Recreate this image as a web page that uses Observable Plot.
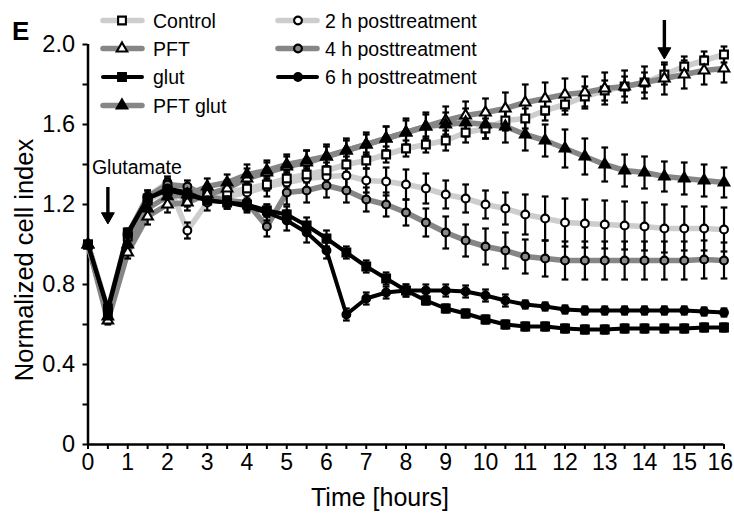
<!DOCTYPE html>
<html>
<head>
<meta charset="utf-8">
<script src="https://cdn.jsdelivr.net/npm/d3@7"></script>
<script src="https://cdn.jsdelivr.net/npm/@observablehq/plot@0.6"></script>
<style>
  html, body { margin: 0; padding: 0; background: #fff; }
  #chart { width: 734px; height: 514px; }
</style>
</head>
<body>
<div id="chart"></div>
<script>
// ---- Data ----
const time = [0, 0.5, 1, 1.5, 2, 2.5, 3, 3.5, 4, 4.5, 5, 5.5, 6, 6.5, 7, 7.5, 8, 8.5, 9, 9.5, 10, 10.5, 11, 11.5, 12, 12.5, 13, 13.5, 14, 14.5, 15, 15.5, 16];

const control = [1.00, 0.66, 1.04, 1.22, 1.27, 1.22, 1.25, 1.26, 1.28, 1.30, 1.33, 1.35, 1.37, 1.40, 1.42, 1.45, 1.48, 1.50, 1.52, 1.56, 1.58, 1.62, 1.63, 1.67, 1.70, 1.74, 1.77, 1.79, 1.81, 1.85, 1.89, 1.92, 1.95];
const pft = [1.00, 0.62, 0.96, 1.14, 1.20, 1.21, 1.25, 1.28, 1.33, 1.36, 1.39, 1.41, 1.44, 1.47, 1.50, 1.53, 1.56, 1.59, 1.62, 1.645, 1.66, 1.68, 1.71, 1.73, 1.75, 1.76, 1.78, 1.79, 1.81, 1.83, 1.85, 1.87, 1.88];
const glut = [1.00, 0.68, 1.06, 1.23, 1.27, 1.25, 1.22, 1.21, 1.20, 1.17, 1.15, 1.095, 1.03, 0.96, 0.89, 0.83, 0.77, 0.72, 0.68, 0.655, 0.625, 0.60, 0.59, 0.59, 0.58, 0.575, 0.575, 0.58, 0.58, 0.58, 0.58, 0.585, 0.585];
const pftGlut = [1.00, 0.64, 1.00, 1.18, 1.24, 1.25, 1.29, 1.31, 1.35, 1.37, 1.40, 1.42, 1.44, 1.47, 1.50, 1.53, 1.56, 1.59, 1.60, 1.61, 1.60, 1.59, 1.55, 1.52, 1.48, 1.44, 1.40, 1.37, 1.36, 1.34, 1.33, 1.32, 1.31];
const post2h = [1.00, 0.67, 1.05, 1.24, 1.31, 1.07, 1.21, 1.24, 1.26, 1.29, 1.31, 1.33, 1.34, 1.345, 1.32, 1.315, 1.30, 1.28, 1.25, 1.23, 1.20, 1.18, 1.15, 1.13, 1.11, 1.105, 1.10, 1.095, 1.09, 1.08, 1.08, 1.08, 1.075];
const post4h = [1.00, 0.67, 1.05, 1.24, 1.30, 1.29, 1.24, 1.22, 1.21, 1.09, 1.26, 1.27, 1.295, 1.27, 1.225, 1.20, 1.16, 1.11, 1.06, 1.02, 0.99, 0.97, 0.94, 0.93, 0.92, 0.92, 0.92, 0.92, 0.92, 0.92, 0.92, 0.925, 0.92];
const post6h = [1.00, 0.67, 1.05, 1.23, 1.28, 1.26, 1.22, 1.21, 1.19, 1.16, 1.12, 1.06, 0.97, 0.65, 0.73, 0.76, 0.77, 0.77, 0.77, 0.765, 0.745, 0.72, 0.70, 0.69, 0.675, 0.67, 0.67, 0.67, 0.67, 0.67, 0.67, 0.665, 0.66];

// error bars (+/-)
const controlErr = [0, 0.02, 0.03, 0.03, 0.03, 0.03, 0.03, 0.03, 0.03, 0.03, 0.04, 0.04, 0.04, 0.04, 0.04, 0.04, 0.04, 0.04, 0.05, 0.05, 0.05, 0.05, 0.05, 0.05, 0.05, 0.05, 0.05, 0.05, 0.05, 0.05, 0.05, 0.045, 0.04];
const pftErr = [0, 0.02, 0.03, 0.04, 0.04, 0.04, 0.04, 0.04, 0.05, 0.05, 0.05, 0.06, 0.06, 0.06, 0.06, 0.06, 0.07, 0.07, 0.07, 0.07, 0.07, 0.08, 0.09, 0.08, 0.08, 0.08, 0.08, 0.08, 0.08, 0.08, 0.07, 0.07, 0.07];
const glutErr = [0, 0.02, 0.02, 0.02, 0.02, 0.02, 0.02, 0.03, 0.03, 0.03, 0.04, 0.04, 0.04, 0.03, 0.03, 0.03, 0.03, 0.02, 0.02, 0.02, 0.02, 0.02, 0.02, 0.02, 0.02, 0.02, 0.02, 0.02, 0.02, 0.02, 0.02, 0.02, 0.02];
const pftGlutErr = [0, 0.02, 0.03, 0.04, 0.04, 0.04, 0.04, 0.04, 0.05, 0.05, 0.05, 0.05, 0.05, 0.05, 0.05, 0.06, 0.06, 0.06, 0.06, 0.07, 0.07, 0.08, 0.08, 0.08, 0.095, 0.09, 0.085, 0.08, 0.08, 0.075, 0.08, 0.08, 0.075];
const post2hErr = [0, 0.02, 0.02, 0.03, 0.03, 0.04, 0.04, 0.04, 0.04, 0.05, 0.05, 0.05, 0.05, 0.06, 0.06, 0.07, 0.075, 0.075, 0.07, 0.07, 0.07, 0.08, 0.10, 0.11, 0.12, 0.12, 0.12, 0.12, 0.12, 0.12, 0.11, 0.11, 0.11];
const post4hErr = [0, 0.02, 0.02, 0.03, 0.03, 0.03, 0.04, 0.04, 0.04, 0.05, 0.06, 0.06, 0.06, 0.06, 0.06, 0.06, 0.065, 0.07, 0.08, 0.08, 0.09, 0.09, 0.085, 0.09, 0.095, 0.095, 0.095, 0.095, 0.095, 0.095, 0.095, 0.095, 0.09];
const post6hErr = [0, 0.02, 0.02, 0.02, 0.02, 0.02, 0.02, 0.03, 0.03, 0.04, 0.05, 0.05, 0.04, 0.03, 0.03, 0.03, 0.03, 0.03, 0.03, 0.03, 0.03, 0.03, 0.02, 0.02, 0.02, 0.02, 0.02, 0.02, 0.02, 0.02, 0.02, 0.02, 0.02];

const seriesNames = ["Control", "PFT", "glut", "PFT glut", "2 h posttreatment", "4 h posttreatment", "6 h posttreatment"];

const xTickLabels = [0, 1, 2, 3, 4, 5, 6, 7, 8, 9, 10, 11, 12, 13, 14, 15, 16];
const xMinorTicks = [0.5, 1.5, 2.5, 3.5, 4.5, 5.5, 6.5, 7.5, 8.5, 9.5, 10.5, 11.5, 12.5, 13.5, 14.5, 15.5];
const yTickLabels = [0, 0.4, 0.8, 1.2, 1.6, 2.0];
const yMinorTicks = [0.2, 0.6, 1.0, 1.4, 1.8];

// annotations
const arrowTime = [0.5, 14.5];
const arrowTop = [1.285, 2.12];
const arrowEnd = [1.15, 1.98];
const arrowHead = [1.14, 1.965];
const annotText = ["Glutamate"];
const annotX = [1.23];
const annotY = [1.382];

// ---- Styles ----
const LIGHT = "#cdcdcd", DARK = "#868686", BLACK = "#000";
const styles = {
  "Control":           {values: control, err: controlErr, line: LIGHT, lw: 5.5, symbol: "square",   fill: "#fff", r: 4.4},
  "PFT":               {values: pft,     err: pftErr,     line: DARK,  lw: 5.5, symbol: "triangle", fill: "#fff", r: 3.9},
  "glut":              {values: glut,    err: glutErr,    line: BLACK, lw: 4,   symbol: "square",   fill: "#000", r: 4.4},
  "PFT glut":          {values: pftGlut, err: pftGlutErr, line: DARK,  lw: 5.5, symbol: "triangle", fill: "#000", r: 3.9},
  "2 h posttreatment": {values: post2h,  err: post2hErr,  line: LIGHT, lw: 5.5, symbol: "circle",   fill: "#fff", r: 3.9},
  "4 h posttreatment": {values: post4h,  err: post4hErr,  line: DARK,  lw: 5.5, symbol: "circle",   fill: "#8a8a8a", r: 3.9},
  "6 h posttreatment": {values: post6h,  err: post6hErr,  line: BLACK, lw: 4,   symbol: "circle",   fill: "#000", r: 3.9}
};

const drawOrder = ["2 h posttreatment", "Control", "4 h posttreatment", "PFT", "PFT glut", "glut", "6 h posttreatment"];

const rows = [];
for (const name of seriesNames) {
  const s = styles[name];
  time.forEach((t, i) => rows.push({series: name, t, v: s.values[i], e: s.err[i]}));
}

const lineMarks = drawOrder.map(name => Plot.line(rows.filter(d => d.series === name), {
  x: "t", y: "v", stroke: styles[name].line, strokeWidth: styles[name].lw, strokeLinejoin: "round", strokeLinecap: "round"
}));

const errRows = rows.filter(d => d.e > 0);
const capHalf = 0.085;

const dotMarks = drawOrder.map(name => Plot.dot(rows.filter(d => d.series === name), {
  x: "t", y: "v", symbol: styles[name].symbol, r: styles[name].r,
  fill: styles[name].fill, stroke: "#000", strokeWidth: 2.1
}));

const arrows = arrowTime.map((t, i) => ({t, top: arrowTop[i], end: arrowEnd[i], head: arrowHead[i]}));
const lastTick = xTickLabels[xTickLabels.length - 1];

const chart = Plot.plot({
  width: 734,
  height: 514,
  marginLeft: 87.5,
  marginRight: 10.5,
  marginTop: 44,
  marginBottom: 70,
  x: {domain: [0, 16]},
  y: {domain: [0, 2]},
  style: {fontFamily: "'Liberation Sans', Arial, sans-serif", fontSize: "23px", color: "#000", background: "#fff", overflow: "visible"},
  marks: [
    Plot.axisY(yTickLabels, {tickSize: 5, tickPadding: 8, strokeWidth: 2, label: null,
      tickFormat: d => d === 0 ? "0" : d.toFixed(1), fontSize: 23.5}),
    Plot.axisY(yMinorTicks, {tickSize: 5, strokeWidth: 2, label: null, tickFormat: () => ""}),
    Plot.axisX(xTickLabels, {tickSize: 5, tickPadding: 4, strokeWidth: 2, label: null, fontSize: 23,
      tickFormat: d => d === lastTick ? "" : String(d)}),
    Plot.text([lastTick], {x: d => d, y: 0, text: d => String(d), dy: 9, dx: 9, lineAnchor: "top", textAnchor: "end", fontSize: 23, fill: "#000"}),
    Plot.axisX(xMinorTicks, {tickSize: 5, strokeWidth: 2, label: null, tickFormat: () => ""}),
    Plot.ruleX([0], {strokeWidth: 2.5}),
    Plot.ruleY([0], {strokeWidth: 2.5}),
    ...lineMarks,
    Plot.ruleX(errRows, {x: "t", y1: d => d.v - d.e, y2: d => d.v + d.e, stroke: "#000", strokeWidth: 2.2}),
    Plot.link(errRows, {x1: d => d.t - capHalf, x2: d => d.t + capHalf, y1: d => d.v + d.e, y2: d => d.v + d.e, stroke: "#000", strokeWidth: 2.2}),
    Plot.link(errRows, {x1: d => d.t - capHalf, x2: d => d.t + capHalf, y1: d => d.v - d.e, y2: d => d.v - d.e, stroke: "#000", strokeWidth: 2.2}),
    ...dotMarks,
    Plot.ruleX(arrows, {x: "t", y1: "top", y2: "end", stroke: "#000", strokeWidth: 3.4}),
    Plot.dot(arrows, {x: "t", y: "head", symbol: "triangle", rotate: 180, r: 4.8, fill: "#000", stroke: "#000", strokeWidth: 1}),
    Plot.text(annotText, {x: () => annotX[0], y: () => annotY[0], text: d => d, fontSize: 19.5, textAnchor: "middle", fill: "#000"})
  ]
});

const svg = d3.select(chart);

// axis titles
svg.append("text")
  .attr("x", 380).attr("y", 506)
  .attr("text-anchor", "middle")
  .attr("font-size", 25)
  .attr("fill", "#000")
  .text("Time [hours]");
svg.append("text")
  .attr("transform", "translate(33,260) rotate(-90)")
  .attr("text-anchor", "middle")
  .attr("font-size", 25.5)
  .attr("fill", "#000")
  .text("Normalized cell index");
// panel letter
svg.append("text")
  .attr("x", 12).attr("y", 40)
  .attr("text-anchor", "start")
  .attr("font-size", 26)
  .attr("font-weight", "bold")
  .attr("fill", "#000")
  .text("E");

// legend
const legendCols = [
  {names: ["Control", "PFT", "glut", "PFT glut"], x0: 103, x1: 142, mx: 122, tx: 153},
  {names: ["2 h posttreatment", "4 h posttreatment", "6 h posttreatment"], x0: 278, x1: 317, mx: 298, tx: 325}
];
const legendRowY = [20.5, 48.5, 77, 105.5];
const symMap = {square: d3.symbolSquare, triangle: d3.symbolTriangle, circle: d3.symbolCircle};
const lg = svg.append("g").attr("class", "legend").attr("text-anchor", "start");
for (const col of legendCols) {
  col.names.forEach((name, i) => {
    const s = styles[name];
    const y = legendRowY[i];
    lg.append("line").attr("x1", col.x0).attr("x2", col.x1).attr("y1", y).attr("y2", y)
      .attr("stroke", s.line).attr("stroke-width", s.lw).attr("stroke-linecap", "round");
    lg.append("path")
      .attr("d", d3.symbol(symMap[s.symbol], Math.PI * s.r * s.r)())
      .attr("transform", `translate(${col.mx},${y})`)
      .attr("fill", s.fill).attr("stroke", "#000").attr("stroke-width", 2.1);
    lg.append("text").attr("x", col.tx).attr("y", y + 7)
      .attr("text-anchor", "start")
      .attr("font-size", 19.5).attr("fill", "#000").text(name);
  });
}

document.getElementById("chart").appendChild(chart);
</script>
</body>
</html>
